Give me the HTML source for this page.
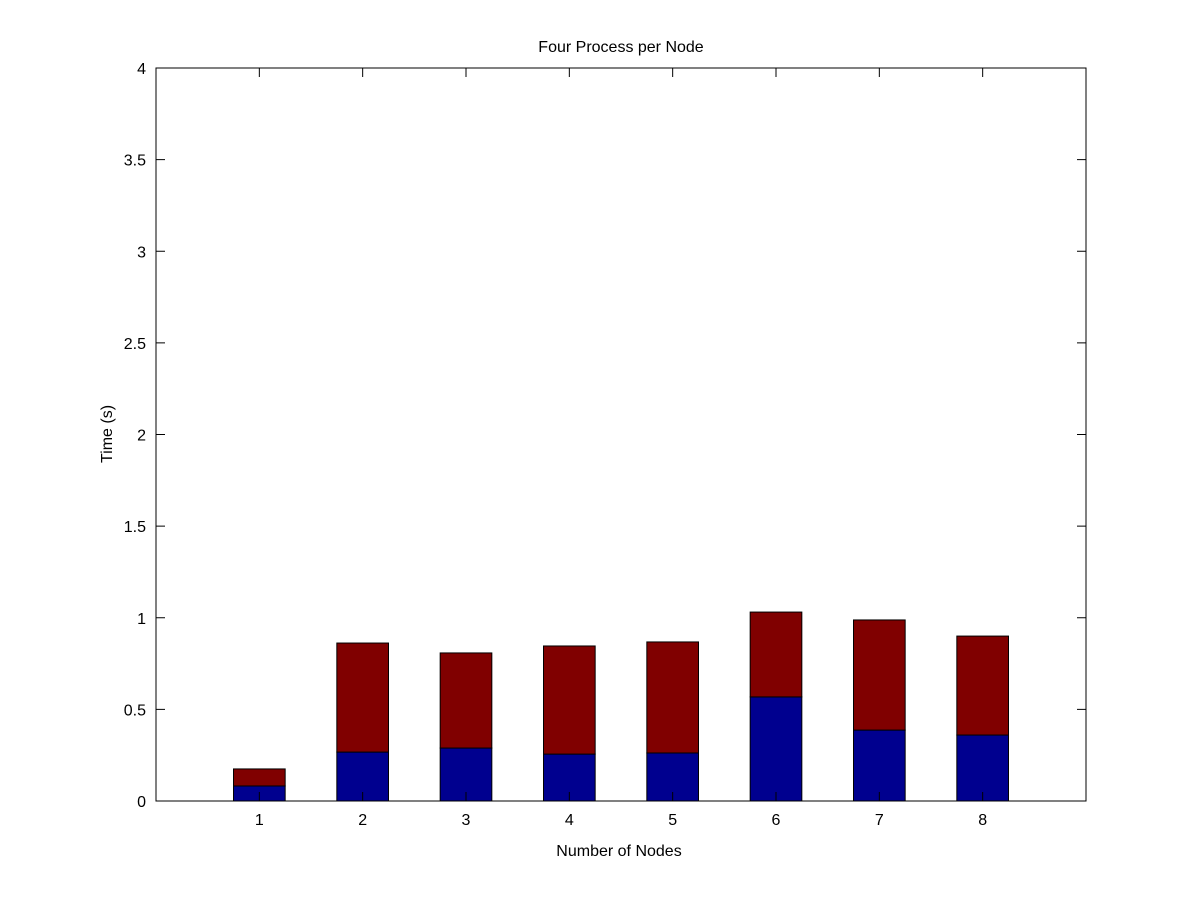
<!DOCTYPE html>
<html><head><meta charset="utf-8"><style>
body{margin:0;background:#fff;}
svg text{font-family:"Liberation Sans",sans-serif;font-size:16px;fill:#000;}
</style></head><body>
<svg id="chart" width="1200" height="900"></svg>
<script>
const categories=[1,2,3,4,5,6,7,8];
const blueValues=[0.082,0.267,0.289,0.256,0.262,0.568,0.387,0.360];
const redValues=[0.093,0.595,0.519,0.590,0.606,0.463,0.601,0.540];
const yTicks=[0,0.5,1,1.5,2,2.5,3,3.5,4];
const yTickLabels=["0","0.5","1","1.5","2","2.5","3","3.5","4"];
const L=156,R=1086,T=68,B=801;
const xs=v=>L+(v-0)/(9-0)*(R-L);
const ys=v=>B-(v/4)*(B-T);
const svg=document.getElementById('chart');
const NS='http://www.w3.org/2000/svg';
function mk(tag,attrs,parent){const e=document.createElementNS(NS,tag);for(const k in attrs)e.setAttribute(k,attrs[k]);(parent||svg).appendChild(e);return e;}
const bw=xs(0.5)-xs(0);
categories.forEach((c,i)=>{
  const x=xs(c)-bw/2;
  const b=mk('rect',{x:x,y:ys(blueValues[i]),width:bw,height:ys(0)-ys(blueValues[i]),fill:'#00008f',stroke:'#000','stroke-width':1});
  
  
  const top=blueValues[i]+redValues[i];
  const r=mk('rect',{x:x,y:ys(top),width:bw,height:ys(blueValues[i])-ys(top),fill:'#800000',stroke:'#000','stroke-width':1});
  
  
});
const frame=mk('rect',{x:L,y:T,width:R-L,height:B-T,fill:'none',stroke:'#000','stroke-width':1});


yTicks.forEach((v,i)=>{
  const y=ys(v);
  mk('line',{x1:L,x2:L+9,y1:y,y2:y,stroke:'#000'});
  mk('line',{x1:R,x2:R-9,y1:y,y2:y,stroke:'#000'});
  const t=mk('text',{x:L-10,y:y+6,'text-anchor':'end'});t.textContent=yTickLabels[i];
  
  
});
categories.forEach(c=>{
  const x=xs(c);
  mk('line',{x1:x,x2:x,y1:B,y2:B-9,stroke:'#000'});
  mk('line',{x1:x,x2:x,y1:T,y2:T+9,stroke:'#000'});
  const t=mk('text',{x:x,y:B+24,'text-anchor':'middle'});t.textContent=String(c);
  
  
});
const title=mk('text',{x:621,y:52,'text-anchor':'middle'});title.textContent='Four Process per Node';


const xl=mk('text',{x:619,y:856,'text-anchor':'middle'});xl.textContent='Number of Nodes';


const yl=mk('text',{x:0,y:0,'text-anchor':'middle',transform:'translate(112,434) rotate(-90)'});yl.textContent='Time (s)';


</script>
</body></html>
